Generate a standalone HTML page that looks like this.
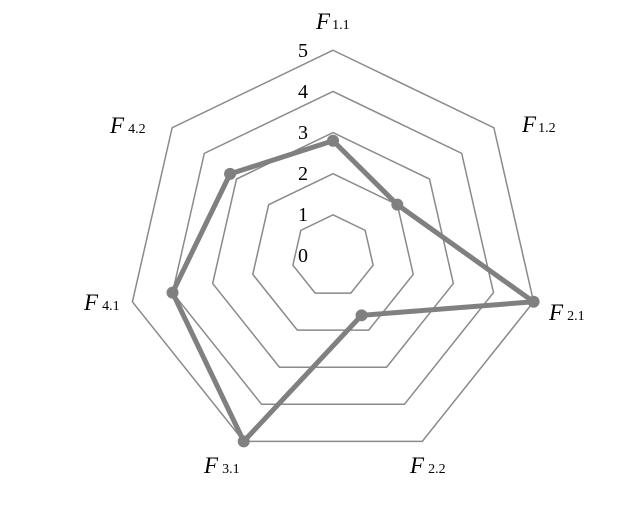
<!DOCTYPE html>
<html><head><style>html,body{margin:0;padding:0;background:#fff}</style></head><body>
<svg width="626" height="502" xmlns="http://www.w3.org/2000/svg" font-family="Liberation Serif, serif">
<g id="rings" fill="none" stroke="#8a8a8a" stroke-width="1.5"></g>
<g fill="#000" font-size="20" text-anchor="middle">
<text x="303" y="57">5</text><text x="303" y="98">4</text><text x="303" y="139">3</text>
<text x="303" y="180">2</text><text x="303" y="221">1</text><text x="303" y="262">0</text>
</g>
<g fill="#000" font-size="23">
<text x="316" y="29"><tspan font-style="italic">F</tspan><tspan font-size="14" dx="2">1.1</tspan></text>
<text x="522" y="132"><tspan font-style="italic">F</tspan><tspan font-size="14" dx="2">1.2</tspan></text>
<text x="549" y="320"><tspan font-style="italic">F</tspan><tspan font-size="14" dx="4">2.1</tspan></text>
<text x="410" y="473"><tspan font-style="italic">F</tspan><tspan font-size="14" dx="4">2.2</tspan></text>
<text x="204" y="473"><tspan font-style="italic">F</tspan><tspan font-size="14" dx="4">3.1</tspan></text>
<text x="84" y="310"><tspan font-style="italic">F</tspan><tspan font-size="14" dx="4">4.1</tspan></text>
<text x="110" y="133"><tspan font-style="italic">F</tspan><tspan font-size="14" dx="4">4.2</tspan></text>
</g>
<g id="data"></g>
<script>
var cx=333,cy=256,ns="http://www.w3.org/2000/svg";
function pt(k,r){var a=k*2*Math.PI/7;return [cx+r*Math.sin(a),cy-r*Math.cos(a)];}
var g=document.getElementById('rings');
for(var i=1;i<=5;i++){var p=[];for(var k=0;k<7;k++){p.push(pt(k,41.15*i).join(','));}
var e=document.createElementNS(ns,'polygon');e.setAttribute('points',p.join(' '));g.appendChild(e);}
var v=[2.8,2.0,5,1.6,5,4.0,3.2],pts=[];
for(var k=0;k<7;k++)pts.push(pt(k,41.15*v[k]));
var d=document.getElementById('data');
var pl=document.createElementNS(ns,'polygon');pl.setAttribute('points',pts.map(function(q){return q.join(',')}).join(' '));
pl.setAttribute('fill','none');pl.setAttribute('stroke','#808080');pl.setAttribute('stroke-width','5');pl.setAttribute('stroke-linejoin','round');d.appendChild(pl);
pts.forEach(function(q){var c=document.createElementNS(ns,'circle');c.setAttribute('cx',q[0]);c.setAttribute('cy',q[1]);c.setAttribute('r','6');c.setAttribute('fill','#808080');d.appendChild(c);});
</script>
</svg>
</body></html>
